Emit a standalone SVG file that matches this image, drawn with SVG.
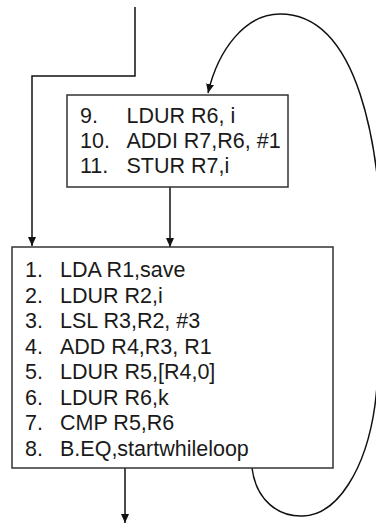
<svg xmlns="http://www.w3.org/2000/svg" width="376" height="524" viewBox="0 0 376 524">
<style>
.box{fill:#fff;stroke:#333;stroke-width:1.5}
.conn{fill:none;stroke:#111;stroke-width:1.5}
text{font-family:"Liberation Sans",Arial,sans-serif;font-size:21.5px;fill:#1a1a1a}
</style>
<defs>
<marker id="ah" markerUnits="userSpaceOnUse" markerWidth="9" markerHeight="8" refX="9" refY="4" orient="auto">
<path d="M0,0 L9,4 L0,8 z" fill="#111"/>
</marker>
</defs>
<g id="connectors">
<path class="conn" d="M135,7 V76 H32 V246" marker-end="url(#ah)"/>
<path class="conn" d="M170,187 V247" marker-end="url(#ah)"/>
<path class="conn" d="M125,468 V523" marker-end="url(#ah)"/>
<path class="conn" d="M252,468 C256,500 278,517 303,516 C337,515 366,470 375,405 C380,365 383,300 382,250 C380,150 360,14 280,14 C245,14 218,50 208,93" marker-end="url(#ah)"/>
</g>
<g id="block-loop">
<rect class="box" x="67" y="95" width="221" height="92"/>
<text x="80" y="123">9.</text><text x="126.5" y="123">LDUR R6, i</text>
<text x="80" y="148">10.</text><text x="126.5" y="148">ADDI R7,R6, #1</text>
<text x="80" y="173">11.</text><text x="126.5" y="173">STUR R7,i</text>
</g>
<g id="block-main">
<rect class="box" x="12" y="247" width="321" height="221"/>
<text x="25" y="277">1.</text><text x="60" y="277">LDA R1,save</text>
<text x="25" y="302.5">2.</text><text x="60" y="302.5">LDUR R2,i</text>
<text x="25" y="328">3.</text><text x="60" y="328">LSL R3,R2, #3</text>
<text x="25" y="353.5">4.</text><text x="60" y="353.5">ADD R4,R3, R1</text>
<text x="25" y="379">5.</text><text x="60" y="379">LDUR R5,[R4,0]</text>
<text x="25" y="404.5">6.</text><text x="60" y="404.5">LDUR R6,k</text>
<text x="25" y="430">7.</text><text x="60" y="430">CMP R5,R6</text>
<text x="25" y="455.5">8.</text><text x="60" y="455.5">B.EQ,startwhileloop</text>
</g>
</svg>
